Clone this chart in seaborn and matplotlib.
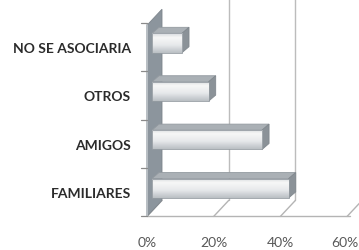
import numpy as np
import pandas as pd
import matplotlib
matplotlib.use("Agg")
import matplotlib.pyplot as plt
import seaborn as sns
from matplotlib.patches import Polygon, Rectangle
from matplotlib.colors import LinearSegmentedColormap

categories = ["NO SE ASOCIARIA", "OTROS", "AMIGOS", "FAMILIARES"]
values = [9, 17, 33, 41]
ticks = [0, 20, 40, 60]
tick_labels = ["0%", "20%", "40%", "60%"]

df = pd.DataFrame({"cat": categories, "val": values})

sns.set_style("white")
plt.rcParams["font.family"] = ["Lato", "DejaVu Sans"]

W, H = 359, 251
fig = plt.figure(figsize=(W / 100, H / 100), dpi=100)
ax = fig.add_axes([0, 0, 1, 1])

PX = 20 / 66.7      # percent per pixel
X0 = 152            # pixel of 0% in bar plane
ROW = 48.4          # pixels per category
Y0 = 44             # pixel of first category centre
XL = (-X0 * PX, (W - X0) * PX)
YL = ((H - Y0) / ROW, -Y0 / ROW)


def ox(p):
    return p * PX


def oy(p):
    return p / ROW


# plane offsets in pixels (relative to bar plane)
FX, FY = -5, 4
BX, BY = 10, -12
DX, DY = 7, -6      # bar depth
TOP, FLOOR = -0.45, 3.5
n = len(categories)

# back wall gridlines
for t in ticks[1:]:
    ax.plot([t + ox(BX), t + ox(BX)], [YL[1], FLOOR + oy(BY)],
            color="#bcbcbc", lw=1.0, zorder=1)
# floor diagonals
for t in ticks:
    ax.plot([t + ox(FX), t + ox(BX)], [FLOOR + oy(FY), FLOOR + oy(BY)],
            color="#b4b4b4", lw=1.0, zorder=1)
# floor front line
ax.plot([ox(FX), ticks[-1] + ox(FX) + ox(3)], [FLOOR + oy(FY)] * 2,
        color="#b4b4b4", lw=1.0, zorder=1)

# side wall
wall = Polygon([(ox(FX), TOP + oy(FY)), (ox(FX), FLOOR + oy(FY)),
                (ox(BX), FLOOR + oy(BY)), (ox(BX), TOP + oy(BY))],
               closed=True, facecolor="#8c959d", edgecolor="#7d858c", lw=0.6, zorder=2)
ax.add_patch(wall)
ax.plot([ox(FX), ox(FX)], [TOP + oy(FY), FLOOR + oy(FY)], color="#b9bfc4", lw=1.4, zorder=2.5)
# category boundary ticks
for i in range(n + 1):
    yy = i - 0.5 + oy(FY)
    ax.plot([ox(FX) - ox(6), ox(FX)], [yy, yy], color="#8a8a8a", lw=0.9, zorder=2.5)

# bars
before = set(id(p) for p in ax.patches)
sns.barplot(data=df, x="val", y="cat", orient="h", order=categories,
            width=0.40, color="#eceef0", edgecolor="#949ba1", linewidth=0.6,
            ax=ax, zorder=5)
bars = [p for p in ax.patches if id(p) not in before and isinstance(p, Rectangle)]

cmap = LinearSegmentedColormap.from_list(
    "bar", [(0, "#d6dadd"), (0.22, "#f7f7f7"), (0.6, "#e7e9eb"), (1, "#babfc4")])
grad = np.linspace(0, 1, 64).reshape(-1, 1)
for p in bars:
    x, y, w, h = p.get_x(), p.get_y(), p.get_width(), p.get_height()
    im = ax.imshow(grad, cmap=cmap, aspect="auto", extent=(x, x + w, y + h, y),
                   zorder=5.5, interpolation="bilinear")
    im.set_clip_path(p)
    topf = Polygon([(x, y), (x + w, y), (x + w + ox(DX), y + oy(DY)), (x + ox(DX), y + oy(DY))],
                   closed=True, facecolor="#aab0b5", edgecolor="#939a a0".replace(" ", ""),
                   lw=0.6, zorder=4)
    side = Polygon([(x + w, y), (x + w, y + h), (x + w + ox(DX), y + h + oy(DY)),
                    (x + w + ox(DX), y + oy(DY))],
                   closed=True, facecolor="#8b9298", edgecolor="#81888e", lw=0.6, zorder=4)
    ax.add_patch(topf)
    ax.add_patch(side)
    p.set_facecolor("none")
    p.set_zorder(6)

# category labels
for i, c in enumerate(categories):
    ax.text(ox(131 - X0), i + oy(5), c, ha="right", va="center",
            fontsize=10, fontweight="bold", color="#2b2b2b", zorder=7)

# x tick labels
for t, lab in zip(ticks, tick_labels):
    xt = t + ox(FX)
    ha = "center"
    if t == ticks[-1]:
        xt = XL[1] - ox(1)
        ha = "right"
    ax.text(xt, FLOOR + oy(FY + 26), lab, ha=ha, va="center",
            fontsize=10, color="#595959", zorder=7)

ax.set_xlim(*XL)
ax.set_ylim(*YL)
ax.axis("off")
fig.savefig("out.png", dpi=100)
